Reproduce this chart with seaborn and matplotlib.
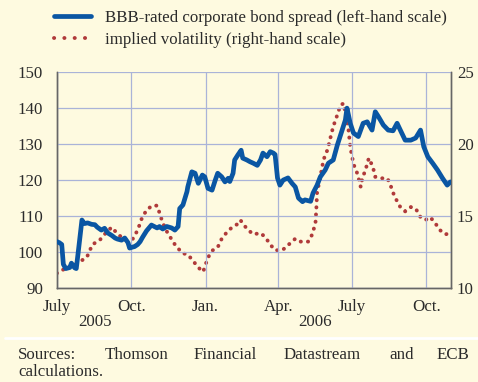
import pandas as pd
import numpy as np
import matplotlib.pyplot as plt
from matplotlib.lines import Line2D
import seaborn as sns

# days after 1 July 2005 and values
spread_days = [0, 3, 6, 8, 11, 16, 18, 22, 24, 27,
               31, 34, 38, 43, 47, 50, 55, 59, 63, 68,
               72, 75, 80, 84, 88, 90, 94, 96, 100, 103,
               106, 111, 117, 124, 127, 131, 136, 142, 146, 150,
               152, 156, 161, 162, 167, 171, 175, 180, 183, 187,
               192, 196, 199, 204, 208, 212, 214, 218, 220, 224,
               228, 230, 235, 239, 243, 248, 252, 255, 260, 264,
               268, 270, 273, 276, 280, 286, 291, 295, 299, 304,
               307, 314, 317, 322, 326, 332, 336, 342, 347, 353,
               357, 359, 363, 367, 373, 379, 384, 390, 394, 398,
               404, 410, 416, 421, 425, 431, 438, 444, 450, 454,
               459, 465, 471, 477, 483, 487]
spread = [102.8, 102.5, 102.0, 96.5, 95.3, 95.6, 96.8, 95.5, 95.3, 101.0,
          108.8, 107.8, 108.0, 107.6, 107.5, 106.8, 106.0, 106.5, 105.2, 104.5,
          103.8, 103.5, 103.2, 103.8, 102.5, 101.0, 101.3, 101.4, 102.0, 102.8,
          104.0, 105.8, 107.4, 106.6, 107.0, 106.3, 107.0, 106.6, 106.0, 107.0,
          112.0, 113.0, 116.7, 118.0, 122.2, 121.8, 119.0, 121.3, 120.8, 117.6,
          117.1, 119.9, 121.8, 120.8, 119.4, 120.4, 119.5, 121.8, 125.5, 126.9,
          128.2, 126.0, 125.5, 125.0, 124.6, 124.0, 125.5, 127.4, 126.4, 127.8,
          127.4, 127.0, 120.5, 118.5, 119.9, 120.5, 119.0, 118.0, 114.9, 113.9,
          114.4, 114.0, 116.3, 118.5, 120.8, 122.7, 124.6, 125.5, 129.6, 133.8,
          136.6, 139.9, 135.7, 133.0, 132.0, 135.7, 136.1, 133.8, 138.9, 137.5,
          135.2, 133.8, 133.6, 135.7, 133.8, 131.0, 131.0, 131.6, 133.8, 129.2,
          126.4, 124.6, 122.7, 120.5, 118.5, 119.4]

vol_days = [0, 6, 13, 22, 31, 37, 44, 53, 62, 68,
            74, 84, 94, 100, 105, 111, 118, 124, 127, 131,
            137, 146, 155, 162, 168, 175, 181, 187, 193, 199,
            204, 211, 217, 223, 227, 235, 243, 252, 258, 264,
            270, 279, 289, 295, 301, 311, 316, 320, 321, 322,
            326, 330, 335, 338, 342, 347, 351, 355, 357, 361,
            363, 367, 372, 376, 378, 382, 386, 391, 394, 401,
            409, 413, 416, 421, 425, 431, 438, 444, 450, 456,
            462, 468, 474, 481, 486]
vol = [11.0, 11.2, 11.4, 11.6, 11.9, 12.1, 13.0, 13.3, 13.9, 14.2,
       13.8, 13.3, 13.4, 14.0, 14.8, 15.4, 15.7, 15.7, 15.2, 14.5,
       13.8, 13.0, 12.4, 12.3, 11.9, 11.4, 11.1, 12.1, 12.6, 12.8,
       13.4, 13.9, 14.2, 14.4, 14.7, 14.1, 13.7, 13.8, 13.5, 13.0,
       12.6, 12.6, 13.1, 13.4, 13.2, 13.2, 13.7, 14.5, 15.4, 16.6,
       17.7, 18.9, 19.6, 20.3, 21.2, 22.0, 22.7, 22.8, 22.1, 20.9,
       19.8, 18.6, 17.9, 17.0, 17.6, 18.2, 19.0, 18.4, 17.7, 17.6,
       17.6, 17.1, 16.6, 16.0, 15.6, 15.3, 15.6, 15.5, 14.9, 14.7,
       14.9, 14.5, 14.0, 13.7, 13.8]

tick_dates = ['2005-07-01', '2005-10-01', '2006-01-01', '2006-04-01', '2006-07-01', '2006-10-01']
tick_labels = ['July', 'Oct.', 'Jan.', 'Apr.', 'July', 'Oct.']
years = [('2005', '2005-08-17'), ('2006', '2006-05-17')]

start = pd.Timestamp('2005-07-01')
df_spread = pd.DataFrame({'date': start + pd.to_timedelta(spread_days, unit='D'), 'value': spread})
df_vol = pd.DataFrame({'date': start + pd.to_timedelta(vol_days, unit='D'), 'value': vol})

bg = '#fefae0'
grid_col = '#aab3d8'
txt = '#2b2b2b'
blue = '#0a56a3'
red = '#b03a3a'
fs = 12.2
dots = (0, (0.05, 1.8))

sns.set_style('white', {'axes.facecolor': bg, 'figure.facecolor': bg})
plt.rcParams['font.family'] = ['Liberation Serif', 'DejaVu Serif']
plt.rcParams['font.size'] = fs

fig = plt.figure(figsize=(4.78, 3.82), dpi=100)
ax = fig.add_axes([0.119, 0.247, 0.825, 0.565])
ax2 = ax.twinx()

sns.lineplot(data=df_spread, x='date', y='value', ax=ax, color=blue, lw=3.4,
             legend=False, zorder=3)
sns.lineplot(data=df_vol, x='date', y='value', ax=ax2, color=red, lw=2.8,
             linestyle=dots, dash_capstyle='round', legend=False)

ax.set_xlim(pd.Timestamp('2005-07-01'), pd.Timestamp('2006-11-01'))
ax.set_ylim(90, 150)
ax2.set_ylim(10, 25)
ax.set_yticks(np.arange(90, 151, 10))
ax2.set_yticks([10, 15, 20, 25])
ax.set_xticks(pd.to_datetime(tick_dates))
ax.set_xticklabels(tick_labels)

ax.grid(True, color=grid_col, lw=0.9)
ax.set_axisbelow(True)
# spread on top of the dots, grid underneath both
ax.set_zorder(ax2.get_zorder() + 1)
ax.patch.set_visible(False)
ax2.patch.set_visible(False)
ax2.set_axisbelow(True)

for a in (ax, ax2):
    a.set_xlabel('')
    a.set_ylabel('')
    a.spines['top'].set_visible(False)
    for s in ('left', 'right', 'bottom'):
        a.spines[s].set_color('#666666')
        a.spines[s].set_linewidth(1.0)
ax.tick_params(axis='y', length=0, pad=10, labelcolor=txt, labelsize=fs)
ax2.tick_params(axis='y', length=0, pad=4, labelcolor=txt, labelsize=fs)
ax.tick_params(axis='x', direction='inout', length=6, width=1, color='#666666', pad=5,
               labelcolor=txt, labelsize=fs)

for label, d in years:
    ax.text(pd.Timestamp(d), -0.158, label, transform=ax.get_xaxis_transform(),
            ha='center', va='center', color=txt, fontsize=fs)

handles = [Line2D([], [], color=blue, lw=3.4),
           Line2D([], [], color=red, lw=2.8, linestyle=(0, (0.05, 2.6)), dash_capstyle='round')]
labels = ['BBB-rated corporate bond spread (left-hand scale)', 'implied volatility (right-hand scale)']
fig.legend(handles, labels, loc='upper left', bbox_to_anchor=(0.113, 0.974), frameon=False,
           borderaxespad=0, borderpad=0, handlelength=2.2, handletextpad=0.8, labelspacing=0.35,
           labelcolor=txt, fontsize=fs)

fig.add_artist(Line2D([0.01, 1.0], [1 - 338 / 382, 1 - 338 / 382], color='white', lw=2,
                      transform=fig.transFigure))

words = [('Sources:', 18), ('Thomson', 105), ('Financial', 194), ('Datastream', 284),
         ('and', 389), ('ECB', 437)]
for w, xp in words:
    fig.text(xp / 478, 1 - 355 / 382, w, ha='left', va='center', color=txt, fontsize=fs)
fig.text(18 / 478, 1 - 372 / 382, 'calculations.', ha='left', va='center', color=txt, fontsize=fs)

fig.savefig('out.png', dpi=100, facecolor=bg)
